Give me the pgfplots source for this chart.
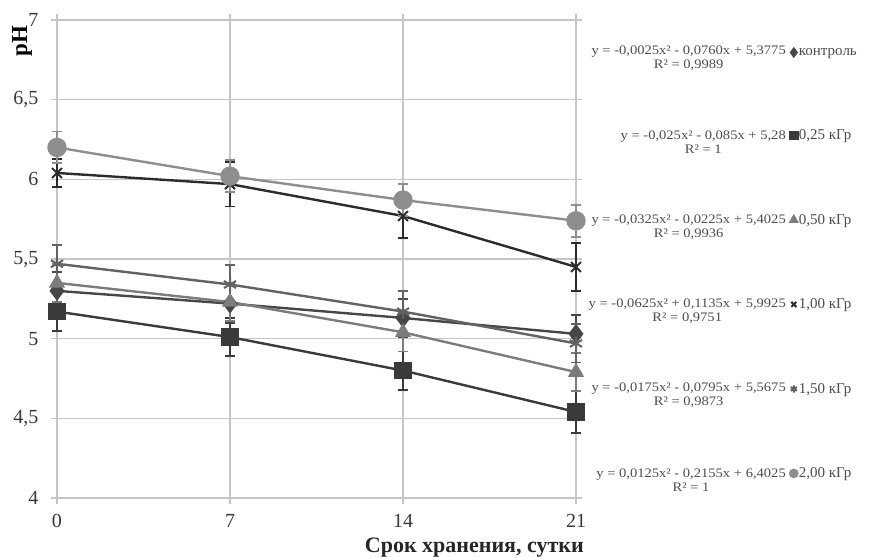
\documentclass[border=0pt]{standalone}
\usepackage{fontspec}
\setmainfont{Liberation Serif}
\newfontfamily\eqfont[FakeStretch=1.12]{Liberation Serif}
\usepackage{pgfplots}
\pgfplotsset{compat=1.18}
\definecolor{gridc}{HTML}{C6C6C6}
\definecolor{cK}{HTML}{474747}
\definecolor{cA}{HTML}{3A3A3A}
\definecolor{cB}{HTML}{7C7C7C}
\definecolor{cC}{HTML}{2C2C2C}
\definecolor{cD}{HTML}{636363}
\definecolor{cE}{HTML}{8E8E8E}
\tikzset{eqn/.style={anchor=east, align=center, inner sep=0pt, text=black!70,
        font=\eqfont\fontsize{13}{14}\selectfont}}
\begin{document}
\begin{tikzpicture}
\begin{axis}[
  scale only axis, width=519pt, height=478pt,
  xmin=0, xmax=21, ymin=4, ymax=7,
  xtick={0,7,14,21}, ytick={4,4.5,5,5.5,6,6.5,7},
  grid=major, major grid style={gridc, line width=1.6pt},
  axis line style={gridc, line width=1.6pt},
  tick style={gridc, line width=1.6pt}, tick align=outside, major tick length=6pt,
  ticklabel style={font=\fontsize{20}{22}\selectfont, text=black!78},
  xticklabel style={inner sep=0pt, yshift=-10pt},
  yticklabel style={xshift=-9pt},
  /pgf/number format/use comma,
  /pgf/number format/assume math mode=true,
  clip=false,
  every axis plot/.append style={line width=2.4pt},
  legend image code/.code={\draw[#1, mark size=3.6pt] plot coordinates {(0pt,0pt)};},
  legend style={at={(rel axis cs:1,1)}, anchor=north west, xshift=214pt, yshift=-27pt,
    draw=none, fill=none, inner sep=0pt, row sep=71pt,
    font=\fontsize{15}{17}\selectfont, text=black!70,
    nodes={inner xsep=1.5pt, inner ysep=1pt}},
  legend cell align=left,
  error bars/y dir=both, error bars/y explicit,
  error bars/error bar style={line width=1.8pt},
  error bars/error mark options={rotate=90, mark size=5pt, line width=1.8pt},
]
\path ([xshift=-57pt,yshift=-60pt]rel axis cs:0,0) rectangle ([xshift=297pt,yshift=20pt]rel axis cs:1,1);

\addplot[cK, mark=diamond*, mark size=8pt] coordinates {
 (0,5.30) +- (0,0.12) (7,5.22) +- (0,0.12) (14,5.13) +- (0,0.12) (21,5.03) +- (0,0.12)};
\addlegendentry{контроль}
\addplot[cA, mark=square*, mark size=7.5pt] coordinates {
 (0,5.17) +- (0,0.12) (7,5.01) +- (0,0.12) (14,4.80) +- (0,0.12) (21,4.54) +- (0,0.13)};
\addlegendentry{0,25 кГр}
\addplot[cB, mark=triangle*, mark size=7pt] coordinates {
 (0,5.35) +- (0,0.12) (7,5.23) +- (0,0.12) (14,5.04) +- (0,0.12) (21,4.79) +- (0,0.12)};
\addlegendentry{0,50 кГр}
\addplot[cC, mark=x, mark size=7pt, mark options={line width=2pt}] coordinates {
 (0,6.04) +- (0,0.09) (7,5.97) +- (0,0.14) (14,5.77) +- (0,0.14) (21,5.45) +- (0,0.15)};
\addlegendentry{1,00 кГр}
\addplot[cD, mark=asterisk, mark size=7pt, mark options={line width=2pt}] coordinates {
 (0,5.47) +- (0,0.12) (7,5.34) +- (0,0.12) (14,5.17) +- (0,0.13) (21,4.97) +- (0,0.12)};
\addlegendentry{1,50 кГр}
\addplot[cE, mark=*, mark size=8.5pt] coordinates {
 (0,6.20) +- (0,0.10) (7,6.02) +- (0,0.10) (14,5.87) +- (0,0.10) (21,5.74) +- (0,0.10)};
\addlegendentry{2,00 кГр}

\node[rotate=90, font=\bfseries\fontsize{23}{25}\selectfont, anchor=center] at ([xshift=-35pt,yshift=-21pt]rel axis cs:0,1) {pH};
\node[font=\bfseries\fontsize{22}{24}\selectfont, anchor=east, inner sep=0pt, text=black!85] at ([xshift=8pt,yshift=-50pt]rel axis cs:1,0) {Срок хранения, сутки};

\node[eqn] at ([xshift=210pt,yshift=-38pt]rel axis cs:1,1) {y = -0,0025x² - 0,0760x + 5,3775\\R² = 0,9989};
\node[eqn] at ([xshift=210pt,yshift=-122.4pt]rel axis cs:1,1) {y = -0,025x² - 0,085x + 5,28\\R² = 1};
\node[eqn] at ([xshift=210pt,yshift=-206.8pt]rel axis cs:1,1) {y = -0,0325x² - 0,0225x + 5,4025\\R² = 0,9936};
\node[eqn] at ([xshift=210pt,yshift=-291.2pt]rel axis cs:1,1) {y = -0,0625x² + 0,1135x + 5,9925\\R² = 0,9751};
\node[eqn] at ([xshift=210pt,yshift=-375.6pt]rel axis cs:1,1) {y = -0,0175x² - 0,0795x + 5,5675\\R² = 0,9873};
\node[eqn] at ([xshift=210pt,yshift=-460pt]rel axis cs:1,1) {y = 0,0125x² - 0,2155x + 6,4025\\R² = 1};
\end{axis}
\end{tikzpicture}
\end{document}
